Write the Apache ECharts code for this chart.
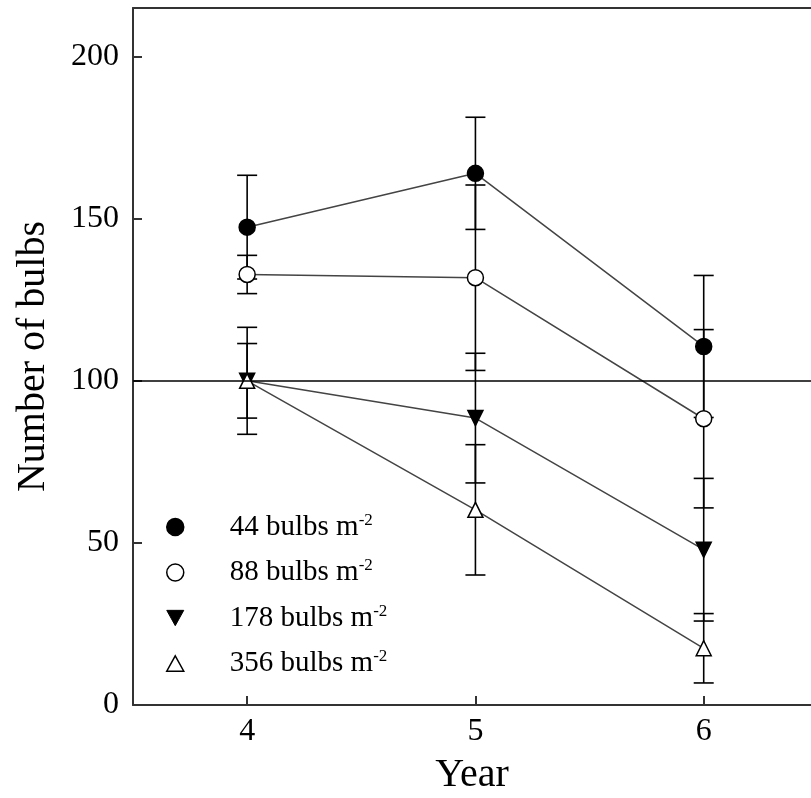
<!DOCTYPE html>
<html>
<head>
<meta charset="utf-8">
<script src="https://cdn.jsdelivr.net/npm/echarts@6/dist/echarts.min.js"></script>
<style>html,body{margin:0;padding:0;background:#fff;}#c{width:811px;height:798px;}</style>
</head>
<body>
<div id="c"></div>
<script>
var years = [4, 5, 6];
var seriesNames = ['44', '88', '178', '356'];
var vals44 = [147.4, 164, 110.6];
var err44 = [16, 17.3, 21.9];
var vals88 = [132.8, 131.8, 88.3];
var err88 = [5.9, 28.6, 27.5];
var vals178 = [100, 88.5, 47.9];
var err178 = [11.5, 20, 22];
var vals356 = [100, 60.2, 17.5];
var err356 = [16.5, 20.1, 10.7];
var yTicks = [0, 50, 100, 150, 200];
var refValue = 100;

var FONT = 'Liberation Serif';
var downTri = 'path://M0,0 L10,0 L5,9 Z';
var upTri = 'path://M5,0 L10,9 L0,9 Z';

var allVals = [vals44, vals88, vals178, vals356];
var allErr = [err44, err88, err178, err356];
var symbols = ['circle', 'circle', downTri, upTri];
var fills = ['#000', '#fff', '#000', '#fff'];
var sizes = [16, 16, 15, 15];

function pts(v) { return years.map(function (y, i) { return [y, v[i]]; }); }

var series = [];
// error bars
allVals.forEach(function (v, si) {
  var e = allErr[si];
  series.push({
    type: 'custom',
    z: 1,
    silent: true,
    data: years.map(function (y, i) { return [y, v[i] - e[i], v[i] + e[i]]; }),
    renderItem: function (params, api) {
      var x = api.value(0);
      var lo = api.coord([x, api.value(1)]);
      var hi = api.coord([x, api.value(2)]);
      var w = 10;
      var st = { stroke: '#000', lineWidth: 1.6 };
      return {
        type: 'group',
        children: [
          { type: 'line', shape: { x1: lo[0], y1: lo[1], x2: hi[0], y2: hi[1] }, style: st },
          { type: 'line', shape: { x1: lo[0] - w, y1: lo[1], x2: lo[0] + w, y2: lo[1] }, style: st },
          { type: 'line', shape: { x1: hi[0] - w, y1: hi[1], x2: hi[0] + w, y2: hi[1] }, style: st }
        ]
      };
    }
  });
});
// lines + markers
allVals.forEach(function (v, si) {
  var s = {
    type: 'line',
    name: seriesNames[si],
    z: 3,
    data: pts(v),
    symbol: symbols[si],
    symbolSize: sizes[si],
    showAllSymbol: true,
    lineStyle: { color: '#444', width: 1.5 },
    itemStyle: { color: fills[si], borderColor: '#000', borderWidth: 1.5 },
    emphasis: { disabled: true },
    animation: false
  };
  if (si === 0) {
    s.markLine = {
      silent: true,
      symbol: ['none', 'none'],
      label: { show: false },
      lineStyle: { color: '#000', width: 1.6, type: 'solid' },
      data: [{ yAxis: refValue }],
      animation: false
    };
  }
  series.push(s);
});

var chart = echarts.init(document.getElementById('c'));
chart.setOption({
  animation: false,
  backgroundColor: '#fff',
  grid: { left: 133, right: 0, top: 8, bottom: 93, outerBoundsMode: 'none', containLabel: false },
  xAxis: [{
    type: 'value',
    min: 3.5,
    max: 6.47,
    name: 'Year',
    nameLocation: 'middle',
    nameGap: 50,
    nameTextStyle: { fontFamily: FONT, fontSize: 40, color: '#000' },
    axisLine: { show: true, lineStyle: { color: '#333', width: 2 } },
    axisTick: { show: true, inside: true, length: 9, customValues: years, lineStyle: { color: '#333', width: 2 } },
    axisLabel: { customValues: years, fontFamily: FONT, fontSize: 32, color: '#000', margin: 11 },
    splitLine: { show: false }
  }, {
    type: 'value',
    position: 'top',
    min: 3.5,
    max: 6.47,
    axisLine: { show: true, lineStyle: { color: '#333', width: 2 } },
    axisTick: { show: false },
    axisLabel: { show: false },
    splitLine: { show: false }
  }],
  yAxis: {
    type: 'value',
    min: 0,
    max: 215,
    name: 'Number of bulbs',
    nameLocation: 'middle',
    nameRotate: 90,
    nameGap: 80,
    nameTextStyle: { fontFamily: FONT, fontSize: 40, color: '#000' },
    axisLine: { show: true, lineStyle: { color: '#333', width: 2 } },
    axisTick: { show: true, inside: true, length: 9, customValues: yTicks, lineStyle: { color: '#333', width: 2 } },
    axisLabel: { customValues: yTicks, fontFamily: FONT, fontSize: 32, color: '#000', margin: 14 },
    splitLine: { show: false }
  },
  legend: {
    orient: 'vertical',
    left: 166,
    top: 512,
    padding: 0,
    itemGap: 16,
    itemWidth: 17,
    itemHeight: 17,
    selectedMode: false,
    data: [
      { name: '44', icon: 'circle', itemStyle: { color: '#000', borderColor: '#000', borderWidth: 1.5 } },
      { name: '88', icon: 'circle', itemStyle: { color: '#fff', borderColor: '#000', borderWidth: 1.5 } },
      { name: '178', icon: downTri, itemStyle: { color: '#000', borderColor: '#000', borderWidth: 1 } },
      { name: '356', icon: upTri, itemStyle: { color: '#fff', borderColor: '#000', borderWidth: 1.5 } }
    ],
    formatter: function (n) { return '{a|' + n + ' bulbs m}{s|-2}'; },
    textStyle: {
      rich: {
        a: { fontFamily: FONT, fontSize: 29, color: '#000', lineHeight: 30, padding: [0, 0, 0, 41] },
        s: { fontFamily: FONT, fontSize: 17, color: '#000', lineHeight: 30, verticalAlign: 'top', padding: [0, 0, 0, 0] }
      }
    }
  },
  series: series
});
</script>
</body>
</html>
